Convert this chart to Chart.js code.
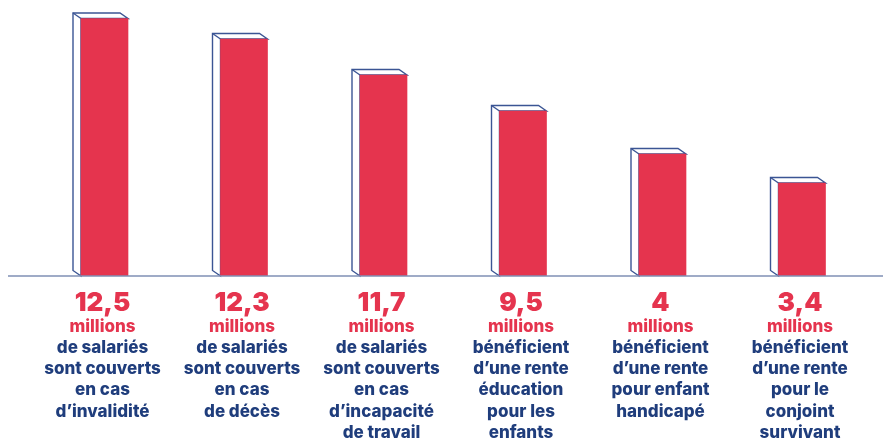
<!DOCTYPE html>
<html lang="fr">
<head>
<meta charset="utf-8">
<style>
    body { margin: 0; background: #ffffff; }
    #wrap { width: 886px; height: 439px; }
</style>
</head>
<body>
<div id="wrap">
    <canvas id="myChart" width="886" height="439"></canvas>
</div>

<script src="https://cdn.jsdelivr.net/npm/chart.js"></script>
<script>
    // valeurs affichées sous les barres
    const values = ["12,5", "12,3", "11,7", "9,5", "4", "3,4"];
    const unitLabel = "millions";
    const descriptions = [
        ["de salariés", "sont couverts", "en cas", "d’invalidité"],
        ["de salariés", "sont couverts", "en cas", "de décès"],
        ["de salariés", "sont couverts", "en cas", "d’incapacité", "de travail"],
        ["bénéficient", "d’une rente", "éducation", "pour les", "enfants"],
        ["bénéficient", "d’une rente", "pour enfant", "handicapé"],
        ["bénéficient", "d’une rente", "pour le", "conjoint", "survivant"]
    ];
    // hauteurs des barres telles que dessinées (non proportionnelles)
    const barHeights = [257.5, 237, 201, 165, 122, 93];

    const RED = '#e5344e';
    const NAVY = '#1f3d7c';

    // boîte "3D" derrière chaque barre
    const boxPlugin = {
        id: 'boxes',
        beforeDatasetsDraw(chart) {
            const ctx = chart.ctx;
            const dx = 8, dy = 5.5;
            chart.getDatasetMeta(0).data.forEach(function (bar) {
                const l = bar.x - bar.width / 2;
                const r = bar.x + bar.width / 2;
                const t = bar.y;
                const b = bar.base;
                ctx.save();
                ctx.fillStyle = '#ffffff';
                ctx.strokeStyle = '#3b5594';
                ctx.lineWidth = 1.4;
                ctx.beginPath();
                ctx.moveTo(l, b);
                ctx.lineTo(l - dx, b - dy);
                ctx.lineTo(l - dx, t - dy);
                ctx.lineTo(r - dx, t - dy);
                ctx.lineTo(r, t);
                ctx.lineTo(l, t);
                ctx.closePath();
                ctx.fill();
                ctx.stroke();
                ctx.beginPath();
                ctx.moveTo(l - dx, t - dy);
                ctx.lineTo(l, t);
                ctx.stroke();
                ctx.restore();
            });
        }
    };

    // ligne de base + textes sous les barres
    const labelPlugin = {
        id: 'labels',
        afterDraw(chart) {
            const ctx = chart.ctx;
            const area = chart.chartArea;
            const x = chart.scales.x;
            ctx.save();
            ctx.strokeStyle = '#7f8fb4';
            ctx.lineWidth = 1.5;
            ctx.beginPath();
            ctx.moveTo(8, area.bottom);
            ctx.lineTo(883, area.bottom);
            ctx.stroke();

            ctx.textAlign = 'center';
            ctx.textBaseline = 'alphabetic';
            values.forEach(function (v, i) {
                const cx = x.getPixelForValue(i) - 2;
                const y0 = area.bottom;
                ctx.fillStyle = RED;
                ctx.font = '900 26px Inter, "Noto Sans", sans-serif';
                ctx.fillText(v, cx, y0 + 35);
                ctx.font = '800 17px Inter, "Noto Sans", sans-serif';
                ctx.fillText(unitLabel, cx, y0 + 56);
                ctx.fillStyle = NAVY;
                descriptions[i].forEach(function (line, j) {
                    ctx.fillText(line, cx, y0 + 77 + j * 21.2);
                });
            });
            ctx.restore();
        }
    };

    var myChart = new Chart(document.getElementById('myChart'), {
        type: 'bar',
        data: {
            labels: values,
            datasets: [{
                data: barHeights,
                backgroundColor: RED,
                borderWidth: 0,
                barThickness: 47
            }]
        },
        options: {
            responsive: false,
            animation: false,
            events: [],
            layout: {
                padding: { left: 34.75, right: 14.25, top: 0, bottom: 163 }
            },
            plugins: {
                legend: { display: false },
                tooltip: { enabled: false }
            },
            scales: {
                x: { display: false },
                y: { display: false, min: 0, max: 276 }
            }
        },
        plugins: [boxPlugin, labelPlugin]
    });
</script>
</body>
</html>
